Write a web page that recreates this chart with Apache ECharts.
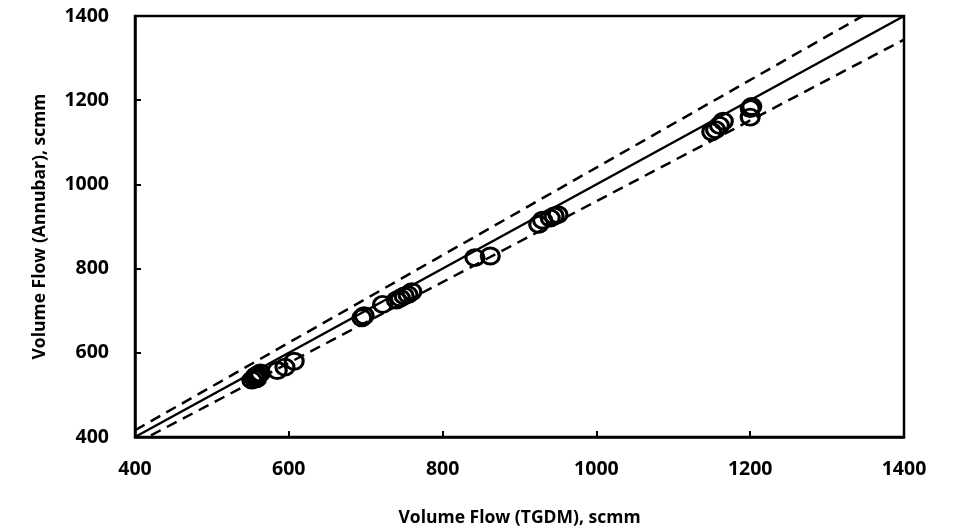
<!DOCTYPE html>
<html>
<head>
<meta charset="utf-8">
<script src="https://cdn.jsdelivr.net/npm/echarts@6/dist/echarts.min.js"></script>
<style>html,body{margin:0;padding:0;background:#fff}#c{width:958px;height:529px}</style>
</head>
<body>
<div id="c"></div>
<script>
// Measured points: TGDM (x) vs Annubar (y), scmm
var tgdm    = [552, 555, 557, 560, 563, 558, 585, 595, 607, 695, 698, 722, 740, 745, 750, 755, 760, 842, 862, 925, 930, 940, 945, 950, 1150, 1155, 1160, 1165, 1200, 1200, 1202];
var annubar = [535, 540, 545, 548, 552, 538, 558, 566, 580, 683, 688, 715, 725, 730, 735, 738, 745, 826, 830, 905, 915, 920, 925, 928, 1125, 1130, 1140, 1150, 1160, 1180, 1185];
// Reference lines: 1:1 and +/-4%
var lineX = [400, 1400];
var oneToOne = [400, 1400];
var upperBand = [416, 1456];
var lowerBand = [384, 1344];
var ticks = [400, 600, 800, 1000, 1200, 1400];
var xTitle = 'Volume Flow (TGDM), scmm';
var yTitle = 'Volume Flow (Annubar), scmm';

var pts = tgdm.map(function (v, i) { return [v, annubar[i]]; });
function line(ys) { return lineX.map(function (v, i) { return [v, ys[i]]; }); }
var font = '"Open Sans", sans-serif';

var chart = echarts.init(document.getElementById('c'), null, {renderer: 'canvas'});
var axisCommon = {
  type: 'value', min: ticks[0], max: ticks[ticks.length - 1], interval: 200,
  splitLine: {show: false},
  axisLine: {show: true, onZero: false, lineStyle: {color: '#000', width: 2.5}},
  axisTick: {show: true, inside: true, length: 6, lineStyle: {color: '#000', width: 2}},
  axisLabel: {color: '#000', fontWeight: 'bold', fontSize: 19.5, fontFamily: font, formatter: function (v) { return String(v); }},
  nameTextStyle: {color: '#000', fontWeight: 'bold', fontSize: 17.5, fontFamily: font},
  nameLocation: 'middle'
};
chart.setOption({
  animation: false,
  backgroundColor: '#fff',
  grid: {left: 135, right: 54, top: 16, bottom: 92, containLabel: false, outerBoundsMode: 'none', show: true, borderColor: '#000', borderWidth: 2.5, backgroundColor: 'transparent'},
  xAxis: Object.assign({}, axisCommon, {name: xTitle, nameGap: 72, axisLabel: Object.assign({}, axisCommon.axisLabel, {margin: 22})}),
  yAxis: Object.assign({}, axisCommon, {name: yTitle, nameGap: 86, axisLabel: Object.assign({}, axisCommon.axisLabel, {margin: 26})}),
  series: [
    {type: 'line', data: line(oneToOne), symbol: 'none', lineStyle: {color: '#000', width: 2.5}, clip: true, z: 2},
    {type: 'line', data: line(upperBand), symbol: 'none', lineStyle: {color: '#000', width: 2.5, type: [11, 7]}, clip: true, z: 2},
    {type: 'line', data: line(lowerBand), symbol: 'none', lineStyle: {color: '#000', width: 2.5, type: [11, 7]}, clip: true, z: 2},
    {type: 'scatter', data: pts, symbol: 'circle', symbolSize: [18, 16],
     itemStyle: {color: 'rgba(0,0,0,0)', borderColor: '#000', borderWidth: 3, opacity: 1}, z: 3}
  ]
});
</script>
</body>
</html>
